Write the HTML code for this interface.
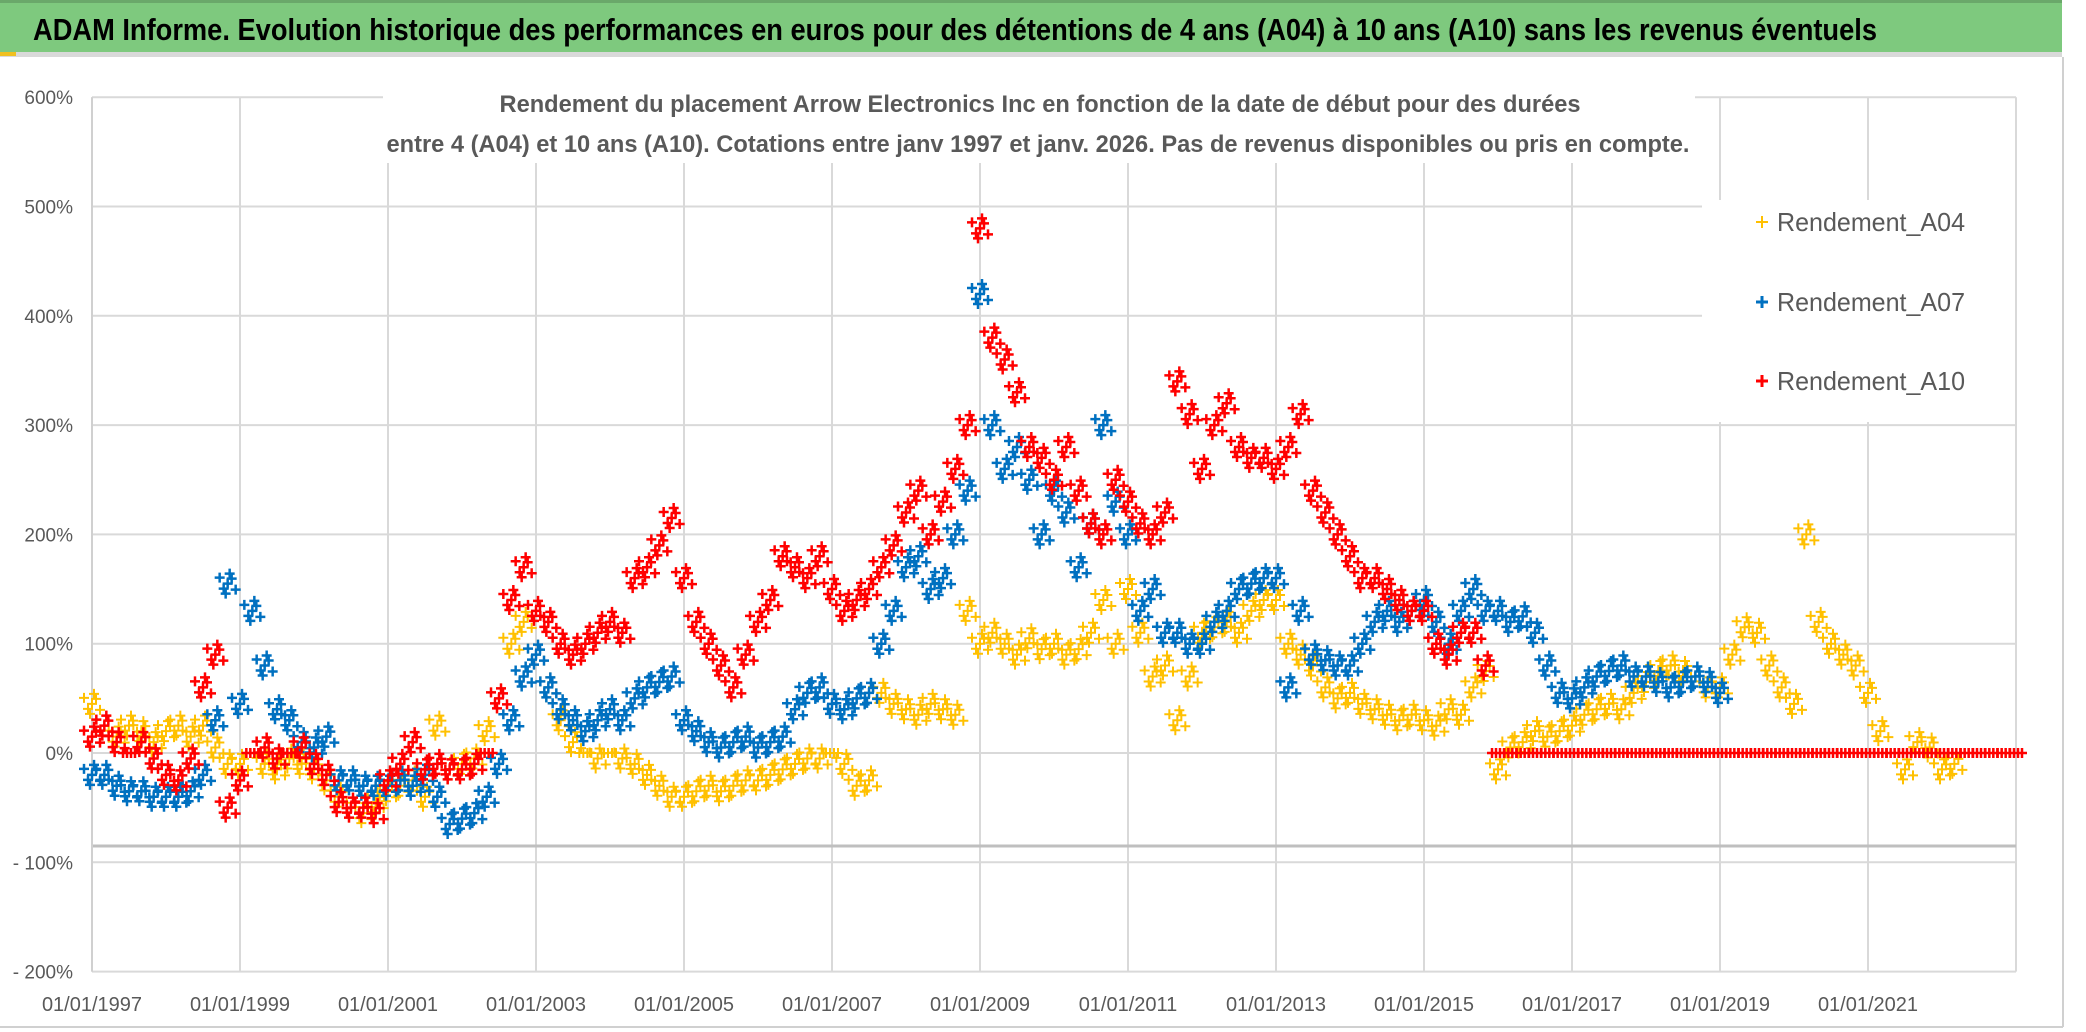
<!DOCTYPE html>
<html><head><meta charset="utf-8"><style>
html,body{margin:0;padding:0;background:#fff;}
svg{display:block;font-family:"Liberation Sans",sans-serif;}
</style></head><body>
<svg id="chart" width="2086" height="1032" viewBox="0 0 2086 1032" xmlns="http://www.w3.org/2000/svg">
<rect x="0" y="0" width="2086" height="1032" fill="#fff"/>
<rect x="0" y="0" width="2062" height="52" fill="#7ec97e"/>
<rect x="0" y="0" width="2062" height="3" fill="#6aa86a"/>
<rect x="0" y="52" width="2062" height="5" fill="#d9d9d9"/>
<rect x="0" y="52" width="16" height="4" fill="#f0c020"/>
<text x="33" y="40" font-size="31" font-weight="bold" fill="#000" textLength="1844" lengthAdjust="spacingAndGlyphs">ADAM Informe. Evolution historique des performances en euros pour des détentions de 4 ans (A04) à 10 ans (A10) sans les revenus éventuels</text>
<line x1="2063" y1="57" x2="2063" y2="1027" stroke="#d0d0d0" stroke-width="2"/>
<line x1="0" y1="1027" x2="2063" y2="1027" stroke="#d0d0d0" stroke-width="2"/>
<g id="grid"></g>
<g id="axes"></g>
<g id="marks"></g>
<rect x="383" y="80" width="1312" height="83" fill="#fff"/>
<text x="1040" y="112" font-size="24" font-weight="bold" fill="#595959" text-anchor="middle" textLength="1081" lengthAdjust="spacingAndGlyphs">Rendement du placement Arrow Electronics Inc en fonction de la date de début pour des durées</text>
<text x="1038" y="152" font-size="24" font-weight="bold" fill="#595959" text-anchor="middle" textLength="1303" lengthAdjust="spacingAndGlyphs">entre 4 (A04) et 10 ans (A10). Cotations entre janv 1997 et janv. 2026. Pas de revenus disponibles ou pris en compte.</text>
<g>
<rect x="1702" y="200" width="313" height="222" fill="#fff"/>
<g><path d="M1756 222h12M1762 216v12" stroke="#ffc000" stroke-width="2"/><text x="1777" y="231" font-size="26" fill="#595959" textLength="188" lengthAdjust="spacingAndGlyphs">Rendement_A04</text></g>
<g><path d="M1756 302h12M1762 296v12" stroke="#0070c0" stroke-width="3"/><text x="1777" y="311" font-size="26" fill="#595959" textLength="188" lengthAdjust="spacingAndGlyphs">Rendement_A07</text></g>
<g><path d="M1756 381h12M1762 375v12" stroke="#ff0000" stroke-width="3"/><text x="1777" y="390" font-size="26" fill="#595959" textLength="188" lengthAdjust="spacingAndGlyphs">Rendement_A10</text></g>
</g>
</svg>
<script>
const yTicks = [600,500,400,300,200,100,0,-100,-200];
const yTickLabels = ["600%","500%","400%","300%","200%","100%","0%","- 100%","- 200%"];
const xTickYears = [1997,1999,2001,2003,2005,2007,2009,2011,2013,2015,2017,2019,2021,2023];
const xTickLabels = ["01/01/1997","01/01/1999","01/01/2001","01/01/2003","01/01/2005","01/01/2007","01/01/2009","01/01/2011","01/01/2013","01/01/2015","01/01/2017","01/01/2019","01/01/2021",""];
const startYear = 1997;
const stepsPerYear = 6;
const a04 = [45,25,15,25,20,10, 20,25,15,25,5,-10, -10,0,-10,-15,-5,-10, -15,-25,-40,-50,-55,-45, -35,-30,-25,-40,25,-15, -10,-5,20,50,100,120, 90,60,30,10,0,-5, 0,-5,-10,-20,-30,-40, -40,-35,-30,-35,-30,-25, -25,-20,-15,-10,-5,-5, 0,-10,-30,-25,55,45, 40,35,45,40,35,130, 100,110,100,90,105,95, 100,90,95,110,140,100, 150,110,70,80,30,70, 110,115,120,110,130,140, 140,100,90,80,60,50, 55,45,40,35,30,35, 30,25,40,35,60,75, -15,5,10,20,15,20, 25,35,40,45,40,55, 65,75,80,75,70,60, 60,90,115,110,80,60, 45,200,120,100,90,80, 55,20,0,-15,10,5, -15,-10,0,0,0,0, 0];
const a07 = [-20,-20,-30,-35,-35,-40, -40,-40,-35,-20,30,155, 45,130,80,40,30,10, 5,15,-25,-25,-30,-30, -30,-25,-30,-20,-40,-65, -60,-55,-40,-10,30,70, 90,60,40,30,20,30, 40,30,50,60,65,70, 30,20,10,5,10,15, 5,10,15,40,55,60, 45,40,50,55,100,130, 170,180,150,160,200,240, 420,300,260,280,250,200, 240,220,170,210,300,230, 200,130,150,110,110,100, 100,120,130,150,155,160, 160,60,130,90,85,80, 80,100,120,130,120,130, 140,120,100,130,150,130, 130,120,125,110,80,55, 50,60,70,75,80,70, 70,65,60,65,70,65, 55];
const a10 = [15,25,10,0,10,-5, -20,-25,-5,60,90,-50, -25,0,5,-5,0,5, -10,-20,-45,-50,-50,-55, -25,-10,10,-15,-10,-15, -15,-10,0,50,140,170, 130,120,100,90,100,110, 120,110,160,170,190,215, 160,120,100,80,60,90, 120,140,180,170,160,180, 150,130,140,150,170,190, 220,240,200,230,260,300, 480,380,360,330,280,270, 250,280,240,210,200,250, 230,210,200,220,340,310, 260,300,320,280,270,270, 260,280,310,240,220,200, 180,160,160,150,140,130, 130,100,90,110,110,80, 0,0,0,0,0,0, 0,0,0,0,0,0, 0,0,0,0,0,0, 0,0,0,0,0,0, 0,0,0,0,0,0, 0,0,0,0,0,0, 0,0,0,0,0,0, 0];

const NS = "http://www.w3.org/2000/svg";
const X0 = 92, PXY = 74, Y0 = 753, PXV = 1.093;
function xScale(year){ return X0 + (year - 1997) * PXY; }
function yScale(v){ return Y0 - v * PXV; }
function mk(tag, attrs, parent){ const e = document.createElementNS(NS, tag); for (const k in attrs) e.setAttribute(k, attrs[k]); parent.appendChild(e); return e; }

const grid = document.getElementById('grid');
const axes = document.getElementById('axes');
yTicks.forEach((t, i) => {
  const y = yScale(t);
  const ln = mk('line', {x1: X0, x2: xScale(2023), y1: y, y2: y, stroke: '#d9d9d9', 'stroke-width': 2}, grid);
  
  
  const tx = mk('text', {x: 73, y: y + 7, 'font-size': 19, fill: '#595959', 'text-anchor': 'end'}, axes);
  tx.textContent = yTickLabels[i];
  
  
});
xTickYears.forEach((yr, i) => {
  const x = xScale(yr);
  const ln = mk('line', {x1: x, x2: x, y1: yScale(600), y2: yScale(-200), stroke: '#d9d9d9', 'stroke-width': 2}, grid);
  
  
  if (xTickLabels[i]) {
    const tx = mk('text', {x: x, y: 1011, 'font-size': 20, fill: '#595959', 'text-anchor': 'middle'}, axes);
    tx.textContent = xTickLabels[i];
    
    
  }
});
const axisLine = mk('line', {x1: X0, x2: xScale(2023), y1: 846, y2: 846, stroke: '#bfbfbf', 'stroke-width': 3}, axes);


const yAxisLine = mk('line', {x1: X0, x2: X0, y1: yScale(600), y2: yScale(-200), stroke: '#d0d0d0', 'stroke-width': 2}, axes);



const marks = document.getElementById('marks');
const offs = [[-8,-6],[-4,5],[0,0],[4,-5],[8,6],[-2,10],[2,-10]];
function drawSeries(vals, color, name, sw){
  const g = mk('g', {}, marks);
  
  
  let d = '';
  vals.forEach((v, i) => {
    const cx = xScale(startYear + i / stepsPerYear), cy = yScale(v);
    const pts = (v === 0) ? [[-6,0],[-2,0],[2,0],[6,0]] : offs;
    pts.forEach(o => {
      const x = cx + o[0], y = cy + o[1];
      d += 'M' + (x-5) + ' ' + y + 'h10M' + x + ' ' + (y-5) + 'v10';
    });
  });
  mk('path', {d: d, stroke: color, 'stroke-width': sw, fill: 'none'}, g);
}
drawSeries(a04, '#ffc000', 'series-a04', 2);
drawSeries(a07, '#0070c0', 'series-a07', 2.5);
drawSeries(a10, '#ff0000', 'series-a10', 2.5);
</script>
</body></html>
